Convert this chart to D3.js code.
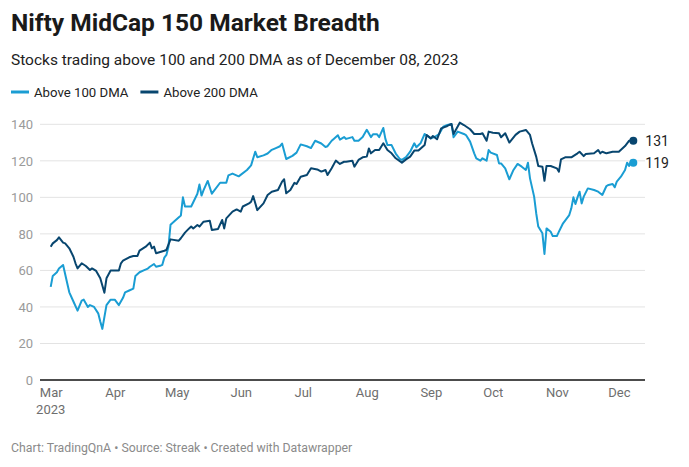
<!DOCTYPE html>
<html>
<head>
<meta charset="utf-8">
<script src="https://cdn.jsdelivr.net/npm/d3@7"></script>
<style>
  html, body { margin: 0; padding: 0; background: #fff; }
  svg { display: block; font-family: Roboto, "Noto Sans", sans-serif; }
</style>
</head>
<body>
<svg id="chart" width="689" height="467"></svg>
<script>
// ---- Data ----
const seriesNames = ["Above 100 DMA", "Above 200 DMA"];
const seriesColors = ["#1a9dd3", "#08466f"];

const dates100 = ["2023-03-01","2023-03-02","2023-03-04","2023-03-05","2023-03-07","2023-03-09","2023-03-10","2023-03-12","2023-03-14","2023-03-16","2023-03-17","2023-03-19","2023-03-20","2023-03-22","2023-03-24","2023-03-25","2023-03-26","2023-03-28","2023-03-30","2023-04-01","2023-04-03","2023-04-05","2023-04-06","2023-04-08","2023-04-10","2023-04-11","2023-04-13","2023-04-15","2023-04-17","2023-04-18","2023-04-20","2023-04-21","2023-04-23","2023-04-24","2023-04-25","2023-04-26","2023-04-27","2023-04-28","2023-04-30","2023-05-03","2023-05-04","2023-05-05","2023-05-08","2023-05-11","2023-05-12","2023-05-13","2023-05-14","2023-05-16","2023-05-18","2023-05-22","2023-05-25","2023-05-26","2023-05-28","2023-05-31","2023-06-04","2023-06-06","2023-06-08","2023-06-09","2023-06-12","2023-06-14","2023-06-16","2023-06-18","2023-06-20","2023-06-21","2023-06-23","2023-06-26","2023-06-28","2023-06-30","2023-07-03","2023-07-05","2023-07-07","2023-07-10","2023-07-12","2023-07-13","2023-07-15","2023-07-16","2023-07-18","2023-07-19","2023-07-21","2023-07-22","2023-07-25","2023-07-26","2023-07-28","2023-07-30","2023-08-01","2023-08-03","2023-08-04","2023-08-06","2023-08-07","2023-08-09","2023-08-10","2023-08-11","2023-08-13","2023-08-15","2023-08-17","2023-08-18","2023-08-20","2023-08-22","2023-08-24","2023-08-25","2023-08-27","2023-08-29","2023-09-01","2023-09-03","2023-09-05","2023-09-07","2023-09-09","2023-09-11","2023-09-12","2023-09-14","2023-09-17","2023-09-18","2023-09-20","2023-09-22","2023-09-23","2023-09-25","2023-09-26","2023-09-28","2023-09-29","2023-09-30","2023-10-03","2023-10-04","2023-10-05","2023-10-07","2023-10-09","2023-10-11","2023-10-13","2023-10-15","2023-10-17","2023-10-18","2023-10-19","2023-10-21","2023-10-22","2023-10-23","2023-10-25","2023-10-26","2023-10-27","2023-10-29","2023-10-30","2023-11-01","2023-11-02","2023-11-04","2023-11-07","2023-11-08","2023-11-09","2023-11-10","2023-11-11","2023-11-12","2023-11-13","2023-11-14","2023-11-16","2023-11-19","2023-11-21","2023-11-23","2023-11-25","2023-11-26","2023-11-28","2023-11-29","2023-11-30","2023-12-02","2023-12-04","2023-12-05","2023-12-06","2023-12-07","2023-12-08"];
const values100 = [51,57,59,61,63,53,48,43,38,43.5,44,40,41,40,36.5,32,28,41,44,44,41,45,48,49,50,57,59,60,61,62,63.5,62,62.5,63,67,68.5,73,85,87,90,100,95,95,102,107,101,104,109,102,108,108,112,113,111.5,115,117.5,125,122,123,124,126,127,128,129.5,121,122.7,124.5,129,128,127,131,129.5,127.6,128,131,132,134,131.6,133,132,133,131,131,133,137,133,134.5,134.5,133,138,132,128.6,128.6,124,121,120.5,122,125,129.6,127.4,129.6,134.7,132.3,133.2,134.7,138.7,139.6,140.2,132.9,136,134.7,134.1,130.5,124.1,121.4,120.1,121.4,120.1,125.9,124.5,123.2,118.6,118.6,115.9,109.9,115,118.3,116.8,115,119,110.4,100.4,91.3,84,80.3,69,83,81.2,78.8,78.8,81.2,85.8,90.3,94,100,96.4,100,103.1,96.7,100.4,104.9,104,103.1,101.3,106.2,106.8,107.3,105.5,108.6,111.3,115,119,117.2,120.1,119];

const dates200 = ["2023-03-01","2023-03-02","2023-03-04","2023-03-05","2023-03-07","2023-03-08","2023-03-10","2023-03-12","2023-03-13","2023-03-14","2023-03-16","2023-03-18","2023-03-20","2023-03-21","2023-03-23","2023-03-25","2023-03-27","2023-03-28","2023-03-30","2023-04-03","2023-04-04","2023-04-05","2023-04-08","2023-04-10","2023-04-12","2023-04-13","2023-04-16","2023-04-18","2023-04-19","2023-04-20","2023-04-21","2023-04-25","2023-04-26","2023-04-28","2023-05-02","2023-05-03","2023-05-05","2023-05-07","2023-05-08","2023-05-09","2023-05-11","2023-05-12","2023-05-14","2023-05-17","2023-05-18","2023-05-21","2023-05-23","2023-05-24","2023-05-25","2023-05-28","2023-05-30","2023-06-01","2023-06-02","2023-06-05","2023-06-06","2023-06-07","2023-06-09","2023-06-12","2023-06-14","2023-06-16","2023-06-19","2023-06-21","2023-06-22","2023-06-23","2023-06-25","2023-06-27","2023-06-28","2023-06-30","2023-07-03","2023-07-05","2023-07-08","2023-07-10","2023-07-12","2023-07-13","2023-07-15","2023-07-17","2023-07-19","2023-07-21","2023-07-22","2023-07-25","2023-07-26","2023-07-28","2023-07-30","2023-08-01","2023-08-02","2023-08-03","2023-08-05","2023-08-07","2023-08-09","2023-08-11","2023-08-13","2023-08-15","2023-08-18","2023-08-20","2023-08-22","2023-08-24","2023-08-26","2023-08-29","2023-08-30","2023-09-01","2023-09-02","2023-09-04","2023-09-06","2023-09-09","2023-09-11","2023-09-12","2023-09-15","2023-09-17","2023-09-20","2023-09-22","2023-09-25","2023-09-26","2023-09-28","2023-09-29","2023-10-01","2023-10-04","2023-10-05","2023-10-07","2023-10-09","2023-10-12","2023-10-14","2023-10-17","2023-10-19","2023-10-20","2023-10-22","2023-10-23","2023-10-25","2023-10-26","2023-10-27","2023-10-29","2023-11-01","2023-11-02","2023-11-03","2023-11-05","2023-11-08","2023-11-11","2023-11-12","2023-11-14","2023-11-15","2023-11-19","2023-11-21","2023-11-22","2023-11-23","2023-11-25","2023-11-28","2023-12-01","2023-12-04","2023-12-06","2023-12-08"];
const values200 = [73,74.8,76.6,78.1,75.2,74.8,72.1,67.5,63.9,61.1,63.9,62.4,60.2,61.1,59.7,55.7,47.8,55.7,59.9,59.9,63.9,65.3,67.2,67.9,67.9,70.8,73,75.2,72.1,73,69.4,70.8,71.2,77,76.3,77.6,80.7,83,84,83,84.9,84,86.7,87.2,82.1,82.7,87.6,83,88.5,92.2,93.4,92.2,95,96.7,97.6,100.7,93,96.7,101.3,103.1,104,108.6,109.9,102.2,104,108,107.3,111.3,112.2,115.9,115.3,114.1,115,112.2,115.9,120.1,118.3,119.5,119.5,120.1,116.8,120.5,121.9,122.3,126.8,124.1,125.9,125.9,129.6,125.9,124.1,121.4,119,120.8,122.3,125.6,125.6,128.7,134.2,132.3,133.6,131.8,137.8,139.1,140.2,134.7,140.9,139.6,137.3,134.7,134.7,135.1,131,136,135.4,135.1,132.9,135.1,130,134.2,136,136.9,134.2,129.6,122.3,117.2,116.8,109.1,117.2,117.2,115.9,114.1,120.8,121.9,121.9,124.1,125,122.6,123.7,124.1,125.9,124.1,125,124.1,125,125,128.1,131,131];

const yTicks = [0, 20, 40, 60, 80, 100, 120, 140];
const monthTicks = ["2023-03-01","2023-04-01","2023-05-01","2023-06-01","2023-07-01","2023-08-01","2023-09-01","2023-10-01","2023-11-01","2023-12-01"];

const titleText = "Nifty MidCap 150 Market Breadth";
const subtitleText = "Stocks trading above 100 and 200 DMA as of December 08, 2023";
const footerText = "Chart: TradingQnA \u2022 Source: Streak \u2022 Created with Datawrapper";

// ---- Drawing ----
const parse = d3.timeParse("%Y-%m-%d");
const svg = d3.select("#chart");

const plotLeft = 40, plotRight = 645;
const x = d3.scaleTime()
  .domain([parse("2023-03-01"), parse("2023-12-08")])
  .range([50.7, 633.3]);
const y = d3.scaleLinear().domain([0, 140]).range([380, 124.3]);

// Title, subtitle
svg.append("text").attr("x", 11).attr("y", 31)
  .attr("font-size", 24.5).attr("font-weight", 700).attr("fill", "#1a1a1a")
  .text(titleText);
svg.append("text").attr("x", 11).attr("y", 64.5)
  .attr("font-size", 15.5).attr("fill", "#222")
  .text(subtitleText);

// Legend
const legend = svg.append("g").attr("transform", "translate(11,92)");
let lx = 0;
seriesNames.forEach((name, i) => {
  const g = legend.append("g").attr("transform", `translate(${lx},0)`);
  g.append("line").attr("x1", 0).attr("x2", 18).attr("y1", 0).attr("y2", 0)
    .attr("stroke", seriesColors[i]).attr("stroke-width", 3);
  const t = g.append("text").attr("x", 23).attr("y", 4.5)
    .attr("font-size", 13.2).attr("fill", "#222").text(name);
  lx += 23 + t.node().getComputedTextLength() + 12;
});

// Grid lines
const grid = svg.append("g");
yTicks.filter(v => v !== 0).forEach(v => {
  grid.append("line").attr("x1", plotLeft).attr("x2", plotRight)
    .attr("y1", y(v)).attr("y2", y(v))
    .attr("stroke", "#e3e3e3").attr("stroke-width", 1);
});

// Y axis labels
const yAxis = d3.axisLeft(y).tickValues(yTicks).tickSize(0).tickPadding(0);
const yg = svg.append("g").attr("transform", `translate(${plotLeft - 7},0)`).call(yAxis);
yg.select(".domain").remove();
yg.selectAll("text").attr("font-size", 13).attr("fill", "#9a9a9a")
  .attr("font-family", "Roboto, sans-serif");

// Baseline
svg.append("line").attr("x1", plotLeft).attr("x2", plotRight)
  .attr("y1", y(0)).attr("y2", y(0))
  .attr("stroke", "#111").attr("stroke-width", 1.5);

// X axis labels
const xAxis = d3.axisBottom(x).tickValues(monthTicks.map(parse))
  .tickFormat(d3.timeFormat("%b")).tickSize(0).tickPadding(8);
const xg = svg.append("g").attr("transform", `translate(0,${y(0)})`).call(xAxis);
xg.select(".domain").remove();
xg.selectAll("text").attr("font-size", 13).attr("fill", "#6e6e6e")
  .attr("font-family", "Roboto, sans-serif");
xg.append("text").attr("x", x(parse(monthTicks[0]))).attr("y", 34)
  .attr("text-anchor", "middle").attr("font-size", 13).attr("fill", "#6e6e6e")
  .attr("font-family", "Roboto, sans-serif").text("2023");

// Lines
const series = [
  dates100.map((d, i) => ({ date: parse(d), value: values100[i] })),
  dates200.map((d, i) => ({ date: parse(d), value: values200[i] }))
];
const line = d3.line().x(d => x(d.date)).y(d => y(d.value));

series.forEach((s, i) => {
  svg.append("path").datum(s).attr("d", line)
    .attr("fill", "none").attr("stroke", seriesColors[i])
    .attr("stroke-width", 2).attr("stroke-linejoin", "round");
});

// End dots and labels
series.forEach((s, i) => {
  const last = s[s.length - 1];
  svg.append("circle").attr("cx", x(last.date)).attr("cy", y(last.value))
    .attr("r", 4).attr("fill", seriesColors[i]);
  svg.append("text").attr("x", x(last.date) + 12).attr("y", y(last.value) + 5)
    .attr("font-size", 14).attr("fill", "#222")
    .text(Math.round(last.value));
});

// Footer
svg.append("text").attr("x", 11).attr("y", 452)
  .attr("font-size", 12.3).attr("fill", "#8a8a8a")
  .text(footerText);
</script>
</body>
</html>
